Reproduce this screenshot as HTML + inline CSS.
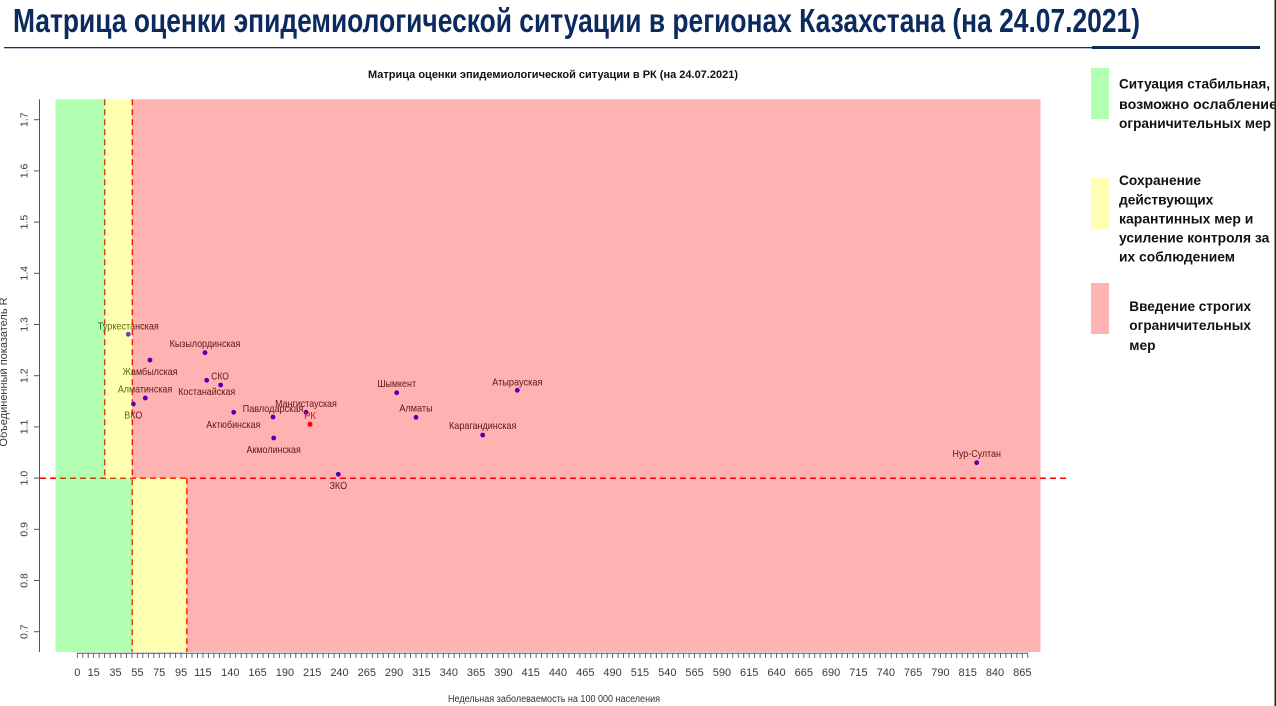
<!DOCTYPE html>
<html>
<head>
<meta charset="utf-8">
<style>
  html, body { margin:0; padding:0; background:#ffffff; }
  body { width:1276px; height:706px; overflow:hidden; }
  svg { display:block; }
  .t { font-family: "Liberation Sans", "Noto Sans CJK SC", sans-serif; }
</style>
</head>
<body>
<svg width="1276" height="706" viewBox="0 0 1276 706" xmlns="http://www.w3.org/2000/svg">
  <rect x="0" y="0" width="1276" height="706" fill="#ffffff"/>

  <!-- Main title -->
  <text class="t" x="13" y="32" font-size="33" font-weight="bold" fill="#0c2a5e" textLength="1127" lengthAdjust="spacingAndGlyphs">Матрица оценки эпидемиологической ситуации в регионах Казахстана (на 24.07.2021)</text>
  <!-- underline -->
  <rect x="4" y="47" width="1088" height="1.3" fill="#1a2f5f"/>
  <rect x="1092" y="46" width="168" height="3" fill="#14295a"/>

  <!-- Chart title -->
  <text class="t" x="553" y="78" font-size="11" font-weight="bold" fill="#111" text-anchor="middle" textLength="370" lengthAdjust="spacingAndGlyphs">Матрица оценки эпидемиологической ситуации в РК (на 24.07.2021)</text>

  <!-- dashed lines (drawn under translucent zones) -->
  <g stroke="#ff0000" stroke-width="1.5" stroke-dasharray="6,4" fill="none">
    <line x1="40" y1="478.3" x2="1067" y2="478.3"/>
    <line x1="104.7" y1="99.3" x2="104.7" y2="478.3"/>
    <line x1="132.3" y1="99.3" x2="132.3" y2="652"/>
    <line x1="186.7" y1="478.3" x2="186.7" y2="652"/>
  </g>

  <!-- points -->
  <g fill="#0000ff">
    <circle cx="128.3" cy="334.3" r="2.4"/>
    <circle cx="205" cy="352.7" r="2.4"/>
    <circle cx="150" cy="360" r="2.4"/>
    <circle cx="206.7" cy="380.3" r="2.4"/>
    <circle cx="220.7" cy="385" r="2.4"/>
    <circle cx="145.3" cy="398" r="2.4"/>
    <circle cx="133.3" cy="404" r="2.4"/>
    <circle cx="233.7" cy="412.3" r="2.4"/>
    <circle cx="273" cy="417" r="2.4"/>
    <circle cx="306" cy="412.3" r="2.4"/>
    <circle cx="273.7" cy="438" r="2.4"/>
    <circle cx="338.3" cy="474.3" r="2.4"/>
    <circle cx="396.7" cy="392.7" r="2.4"/>
    <circle cx="416" cy="417.3" r="2.4"/>
    <circle cx="517.3" cy="390.3" r="2.4"/>
    <circle cx="482.7" cy="435" r="2.4"/>
    <circle cx="976.7" cy="462.7" r="2.4"/>
  </g>
  <circle cx="310" cy="424.3" r="2.5" fill="#ff0000"/>

  <!-- point labels -->
  <g class="t" font-size="10.5" fill="#222" text-anchor="middle">
    <text x="128.3" y="329.5" textLength="61" lengthAdjust="spacingAndGlyphs">Туркестанская</text>
    <text x="205" y="347.1" textLength="70.7" lengthAdjust="spacingAndGlyphs">Кызылординская</text>
    <text x="150" y="374.8" textLength="55" lengthAdjust="spacingAndGlyphs">Жамбылская</text>
    <text x="220" y="379.5" textLength="17.7" lengthAdjust="spacingAndGlyphs">СКО</text>
    <text x="206.7" y="394.8" textLength="57" lengthAdjust="spacingAndGlyphs">Костанайская</text>
    <text x="145" y="392.5" textLength="54.3" lengthAdjust="spacingAndGlyphs">Алматинская</text>
    <text x="133.3" y="418.5" textLength="18" lengthAdjust="spacingAndGlyphs">ВКО</text>
    <text x="233.3" y="427.8" textLength="54" lengthAdjust="spacingAndGlyphs">Актюбинская</text>
    <text x="273" y="411.8" textLength="60.7" lengthAdjust="spacingAndGlyphs">Павлодарская</text>
    <text x="306" y="406.8" textLength="61.7" lengthAdjust="spacingAndGlyphs">Мангистауская</text>
    <text x="273.7" y="452.8" textLength="54.3" lengthAdjust="spacingAndGlyphs">Акмолинская</text>
    <text x="338.3" y="488.8" textLength="17.7" lengthAdjust="spacingAndGlyphs">ЗКО</text>
    <text x="396.7" y="387.1" textLength="38.7" lengthAdjust="spacingAndGlyphs">Шымкент</text>
    <text x="416" y="411.5" textLength="33.3" lengthAdjust="spacingAndGlyphs">Алматы</text>
    <text x="517.3" y="385.5" textLength="50.3" lengthAdjust="spacingAndGlyphs">Атырауская</text>
    <text x="482.7" y="428.8" textLength="67.3" lengthAdjust="spacingAndGlyphs">Карагандинская</text>
    <text x="976.7" y="457.1" textLength="48.3" lengthAdjust="spacingAndGlyphs">Нур-Султан</text>
  </g>
  <text class="t" x="310" y="419.1" font-size="10.5" fill="#ff0000" text-anchor="middle" textLength="11.7" lengthAdjust="spacingAndGlyphs">РК</text>

  <!-- translucent zones -->
  <g>
    <rect x="55.5" y="99.3" width="49.2" height="379" fill="#00ff00" fill-opacity="0.3"/>
    <rect x="104.7" y="99.3" width="27.6" height="379" fill="#ffff00" fill-opacity="0.3"/>
    <rect x="132.3" y="99.3" width="908.2" height="379" fill="#ff0000" fill-opacity="0.3"/>
    <rect x="55.5" y="478.3" width="76.8" height="173.7" fill="#00ff00" fill-opacity="0.3"/>
    <rect x="132.3" y="478.3" width="54.4" height="173.7" fill="#ffff00" fill-opacity="0.3"/>
    <rect x="186.7" y="478.3" width="853.8" height="173.7" fill="#ff0000" fill-opacity="0.3"/>
  </g>

  <!-- Y axis -->
  <g stroke="#555" stroke-width="1">
    <line x1="39.5" y1="99.3" x2="39.5" y2="652"/>
    <line x1="34" y1="119.7" x2="39.5" y2="119.7"/>
    <line x1="34" y1="170.9" x2="39.5" y2="170.9"/>
    <line x1="34" y1="222.1" x2="39.5" y2="222.1"/>
    <line x1="34" y1="273.3" x2="39.5" y2="273.3"/>
    <line x1="34" y1="324.5" x2="39.5" y2="324.5"/>
    <line x1="34" y1="375.7" x2="39.5" y2="375.7"/>
    <line x1="34" y1="426.9" x2="39.5" y2="426.9"/>
    <line x1="34" y1="478.1" x2="39.5" y2="478.1"/>
    <line x1="34" y1="529.3" x2="39.5" y2="529.3"/>
    <line x1="34" y1="580.5" x2="39.5" y2="580.5"/>
    <line x1="34" y1="631.7" x2="39.5" y2="631.7"/>
  </g>
  <g class="t" font-size="10.5" fill="#3a3a3a" text-anchor="middle">
    <text transform="translate(27.3,119.7) rotate(-90)">1.7</text>
    <text transform="translate(27.3,170.9) rotate(-90)">1.6</text>
    <text transform="translate(27.3,222.1) rotate(-90)">1.5</text>
    <text transform="translate(27.3,273.3) rotate(-90)">1.4</text>
    <text transform="translate(27.3,324.5) rotate(-90)">1.3</text>
    <text transform="translate(27.3,375.7) rotate(-90)">1.2</text>
    <text transform="translate(27.3,426.9) rotate(-90)">1.1</text>
    <text transform="translate(27.3,478.1) rotate(-90)">1.0</text>
    <text transform="translate(27.3,529.3) rotate(-90)">0.9</text>
    <text transform="translate(27.3,580.5) rotate(-90)">0.8</text>
    <text transform="translate(27.3,631.7) rotate(-90)">0.7</text>
  </g>
  <text class="t" font-size="11" fill="#3a3a3a" text-anchor="middle" transform="translate(7,372) rotate(-90)">Объединенный показатель R</text>

  <!-- X axis -->
  <line x1="77.3" y1="653.3" x2="1027.8" y2="653.3" stroke="#555" stroke-width="1"/>
  <g id="xticks" stroke="#555" stroke-width="0.9"></g>
  <g class="t" font-size="11" fill="#3a3a3a" text-anchor="middle">
    <text x="77.3" y="676">0</text>
    <text x="93.7" y="676">15</text>
    <text x="115.5" y="676">35</text>
    <text x="137.4" y="676">55</text>
    <text x="159.2" y="676">75</text>
    <text x="181.1" y="676">95</text>
    <text x="202.9" y="676">115</text>
    <text x="230.3" y="676">140</text>
    <text x="257.6" y="676">165</text>
    <text x="284.9" y="676">190</text>
    <text x="312.2" y="676">215</text>
    <text x="339.5" y="676">240</text>
    <text x="366.8" y="676">265</text>
    <text x="394.1" y="676">290</text>
    <text x="421.4" y="676">315</text>
    <text x="448.8" y="676">340</text>
    <text x="476.1" y="676">365</text>
    <text x="503.4" y="676">390</text>
    <text x="530.7" y="676">415</text>
    <text x="558.0" y="676">440</text>
    <text x="585.3" y="676">465</text>
    <text x="612.6" y="676">490</text>
    <text x="639.9" y="676">515</text>
    <text x="667.3" y="676">540</text>
    <text x="694.6" y="676">565</text>
    <text x="721.9" y="676">590</text>
    <text x="749.2" y="676">615</text>
    <text x="776.5" y="676">640</text>
    <text x="803.8" y="676">665</text>
    <text x="831.1" y="676">690</text>
    <text x="858.4" y="676">715</text>
    <text x="885.8" y="676">740</text>
    <text x="913.1" y="676">765</text>
    <text x="940.4" y="676">790</text>
    <text x="967.7" y="676">815</text>
    <text x="995.0" y="676">840</text>
    <text x="1022.3" y="676">865</text>
  </g>
  <text class="t" x="554" y="702" font-size="10" fill="#333" text-anchor="middle" textLength="212" lengthAdjust="spacingAndGlyphs">Недельная заболеваемость на 100 000 населения</text>

  <!-- Legend -->
  <rect x="1091" y="68" width="18" height="51" fill="#b3ffb3"/>
  <rect x="1091" y="178" width="18" height="51" fill="#ffffb3"/>
  <rect x="1091" y="283" width="18" height="51" fill="#ffb3b3"/>
  <g class="t" font-size="14" font-weight="bold" fill="#111">
    <text x="1119" y="88.5" textLength="151" lengthAdjust="spacingAndGlyphs">Ситуация стабильная,</text>
    <text x="1119" y="109" textLength="158" lengthAdjust="spacingAndGlyphs">возможно ослабление</text>
    <text x="1119" y="128" textLength="152" lengthAdjust="spacingAndGlyphs">ограничительных мер</text>

    <text x="1119" y="185" textLength="82" lengthAdjust="spacingAndGlyphs">Сохранение</text>
    <text x="1119" y="204.3" textLength="94.3" lengthAdjust="spacingAndGlyphs">действующих</text>
    <text x="1119" y="223.3" textLength="134.3" lengthAdjust="spacingAndGlyphs">карантинных мер и</text>
    <text x="1119" y="242.3" textLength="150.3" lengthAdjust="spacingAndGlyphs">усиление контроля за</text>
    <text x="1119" y="261.7" textLength="116" lengthAdjust="spacingAndGlyphs">их соблюдением</text>

    <text x="1129.3" y="311" textLength="121.7" lengthAdjust="spacingAndGlyphs">Введение строгих</text>
    <text x="1129.3" y="330" textLength="121.7" lengthAdjust="spacingAndGlyphs">ограничительных</text>
    <text x="1129.3" y="350" textLength="26.3" lengthAdjust="spacingAndGlyphs">мер</text>
  </g>
  <rect x="1274.5" y="0" width="1.5" height="706" fill="#222"/>
</svg>
<script>
  (function(){
    var g = document.getElementById('xticks');
    var ns = 'http://www.w3.org/2000/svg';
    for (var v = 0; v <= 870; v += 5) {
      var x = 77.3 + 1.0925 * v;
      var l = document.createElementNS(ns, 'line');
      l.setAttribute('x1', x); l.setAttribute('x2', x);
      l.setAttribute('y1', 653.3); l.setAttribute('y2', 658);
      g.appendChild(l);
    }
  })();
</script>
</body>
</html>
